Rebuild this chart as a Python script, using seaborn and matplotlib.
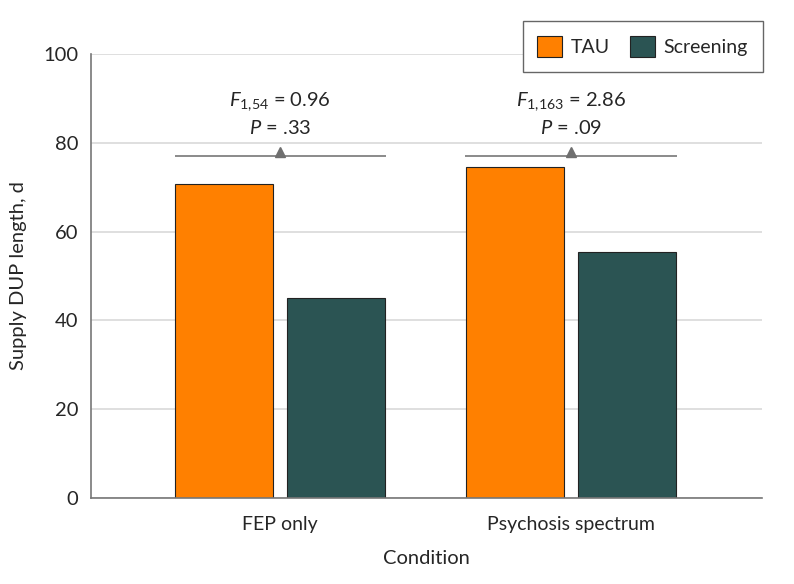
import matplotlib.pyplot as plt
import pandas as pd
import seaborn as sns

# data
conditions = ['FEP only', 'Psychosis spectrum']
groups = ['TAU', 'Screening']
tau_dup = [70.8, 74.6]
screening_dup = [45.1, 55.3]
f_labels = ['$F_{1{,}54}$ = 0.96', '$F_{1{,}163}$ = 2.86']
p_labels = ['$P$ = .33', '$P$ = .09']
bracket_y = 77

colors = {'TAU': '#FF8000', 'Screening': '#2B5453'}

df = pd.DataFrame({
    'condition': conditions * 2,
    'group': ['TAU'] * 2 + ['Screening'] * 2,
    'dup': tau_dup + screening_dup,
})

sns.set_style('white')
plt.rcParams['font.family'] = ['Lato', 'DejaVu Sans']
plt.rcParams['mathtext.fontset'] = 'custom'
plt.rcParams['mathtext.rm'] = 'Lato'
plt.rcParams['mathtext.it'] = 'Lato:italic'

fig = plt.figure(figsize=(7.94, 5.84), dpi=100)
ax = fig.add_axes([0.1146, 0.1473, 0.8451, 0.7602])

sns.barplot(data=df, x='condition', y='dup', hue='group', hue_order=groups,
            palette=colors, saturation=1, width=0.77, gap=0.125,
            edgecolor='#222222', linewidth=0.8, ax=ax, legend=True)

ax.set_xlim(-0.65, 1.656)
ax.set_ylim(0, 100)
ax.set_yticks(range(0, 101, 20))
ax.yaxis.grid(True, color='#d9d9d9', linewidth=1.2)
ax.set_axisbelow(True)
for s in ['top', 'right']:
    ax.spines[s].set_visible(False)
for s in ['left', 'bottom']:
    ax.spines[s].set_color('#777777')
    ax.spines[s].set_linewidth(1.2)
ax.tick_params(axis='y', length=6, color='#777777', labelsize=14.5, pad=3)
ax.tick_params(axis='x', length=0, labelsize=14, pad=13)
ax.set_xlabel('Condition', fontsize=14.5, labelpad=12)
ax.set_ylabel('Supply DUP length, d', fontsize=14.5, labelpad=12)

# significance brackets
for i in range(len(conditions)):
    ax.hlines(bracket_y, i - 0.363, i + 0.363, color='#777777', linewidth=1.2)
    ax.plot(i, bracket_y + 0.9, marker='^', color='#6f6f6f', markersize=7)
    ax.text(i, 89.2, f_labels[i], ha='center', va='center', fontsize=14.5)
    ax.text(i, 83.4, p_labels[i], ha='center', va='center', fontsize=14.5)

handles, labels = ax.get_legend_handles_labels()
leg = ax.legend(handles, labels, loc='upper right', bbox_to_anchor=(1.001, 1.074),
                borderaxespad=0, ncol=2, fontsize=14, frameon=True, fancybox=False,
                edgecolor='#666666', handlelength=1.3, handleheight=1.3,
                columnspacing=1.0, handletextpad=0.45, borderpad=0.75)
leg.get_frame().set_linewidth(1.0)
leg.get_frame().set_alpha(1)

fig.savefig('out.png', dpi=100)
